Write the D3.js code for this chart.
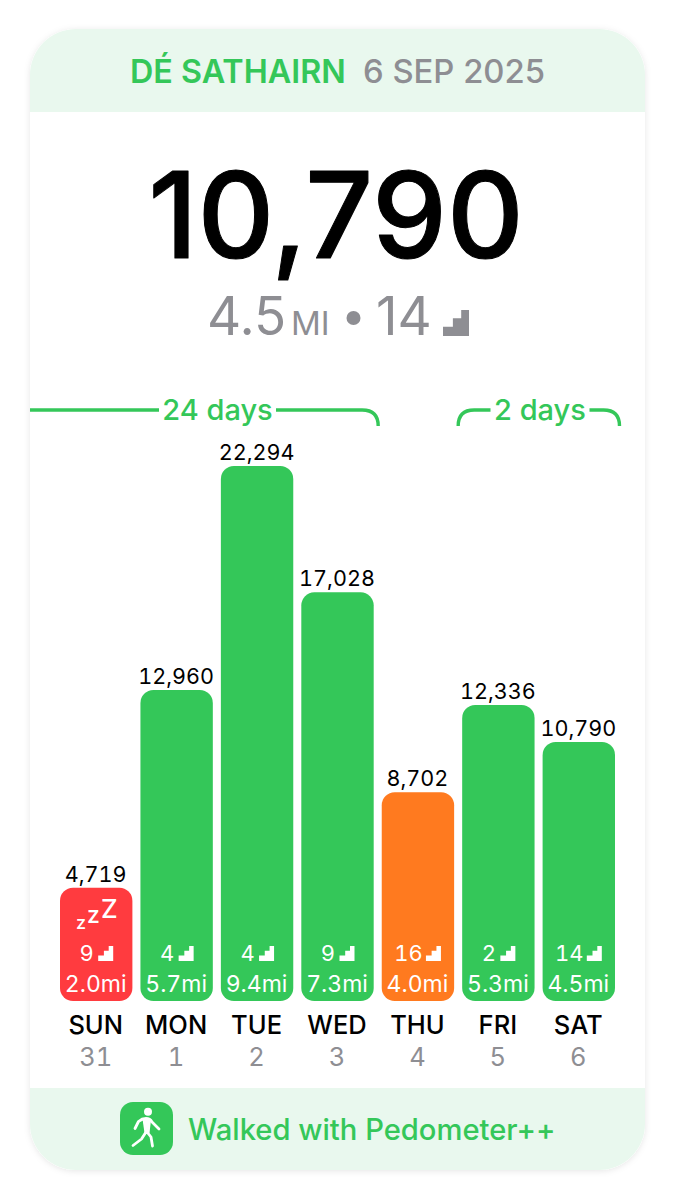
<!DOCTYPE html>
<html>
<head>
<meta charset="utf-8">
<script src="https://cdn.jsdelivr.net/npm/d3@7"></script>
<style>
  html, body { margin: 0; background: #fff; }
  text { font-family: Inter, "Noto Sans", sans-serif; }
  .num { font-variant-numeric: tabular-nums; }
</style>
</head>
<body>
<div id="chart"></div>
<script>
const dayNames = ['SUN', 'MON', 'TUE', 'WED', 'THU', 'FRI', 'SAT']
const dayDates = ['31', '1', '2', '3', '4', '5', '6']
const steps = [4719, 12960, 22294, 17028, 8702, 12336, 10790]
const floors = [9, 4, 4, 9, 16, 2, 14]
const miles = ['2.0mi', '5.7mi', '9.4mi', '7.3mi', '4.0mi', '5.3mi', '4.5mi']
const barStatus = ['low', 'goal', 'goal', 'goal', 'mid', 'goal', 'goal']
const streakLabels = ['24 days', '2 days']
const streakFrom = ['SUN', 'FRI']
const streakTo = ['WED', 'SAT']

const green = '#34c759'
const gray = '#8e8e93'
const tint = '#e9f8ee'
const statusColor = d3.scaleOrdinal(['low', 'mid', 'goal'], ['#ff3b3f', '#ff7a1f', green])

const width = 675
const height = 1200
const svg = d3.select('#chart').append('svg')
  .attr('width', width)
  .attr('height', height)
  .style('display', 'block')

const defs = svg.append('defs')
defs.append('clipPath').attr('id', 'cardClip')
  .append('rect').attr('x', 30).attr('y', 29).attr('width', 615).attr('height', 1141).attr('rx', 46)
const blur = defs.append('filter').attr('id', 'cardShadow')
  .attr('x', '-5%').attr('y', '-5%').attr('width', '110%').attr('height', '110%')
blur.append('feDropShadow').attr('dx', 0).attr('dy', 1).attr('stdDeviation', 3)
  .attr('flood-color', '#000').attr('flood-opacity', 0.1)

// card
svg.append('rect').attr('x', 30).attr('y', 29).attr('width', 615).attr('height', 1141).attr('rx', 46)
  .attr('fill', '#fff').attr('filter', 'url(#cardShadow)')
const bands = svg.append('g').attr('clip-path', 'url(#cardClip)')
bands.append('rect').attr('x', 30).attr('y', 29).attr('width', 615).attr('height', 83).attr('fill', tint)
bands.append('rect').attr('x', 30).attr('y', 1088).attr('width', 615).attr('height', 82).attr('fill', tint)

// header
svg.append('text').attr('x', 130).attr('y', 83)
  .attr('font-size', 32.3).attr('font-weight', 600).attr('fill', green).text('DÉ SATHAIRN')
svg.append('text').attr('x', 363).attr('y', 83)
  .attr('font-size', 32.8).attr('font-weight', 500).attr('fill', gray).text('6 SEP 2025')

// today's total
const today = steps[steps.length - 1]
svg.append('text').attr('x', 336).attr('y', 258).attr('text-anchor', 'middle')
  .attr('font-size', 119).attr('font-weight', 500).attr('fill', '#000')
  .attr('stroke', '#000').attr('stroke-width', 1).attr('stroke-linejoin', 'round')
  .text(d3.format(',')(today))

const stairs = 'M0 0 H-1 V-0.36 H-0.62 V-0.68 H-0.3 V-1 H0 Z'

const subLine = svg.append('g').attr('fill', gray)
subLine.append('text').attr('x', 207).attr('y', 335).attr('font-size', 53).text('4.5')
subLine.append('text').attr('x', 291).attr('y', 335).attr('font-size', 33).text('MI')
subLine.append('circle').attr('cx', 353.5).attr('cy', 318).attr('r', 7)
subLine.append('text').attr('x', 376).attr('y', 335).attr('font-size', 53).text('14')
subLine.append('path').attr('d', stairs).attr('transform', 'translate(469,336) scale(26)')

// scales
const x = d3.scaleBand().domain(dayNames).range([60, 615]).paddingInner(0.1).paddingOuter(0)
const y = d3.scaleLinear().domain([0, 22294]).range([1001, 466])

// streak brackets
const bracket = svg.append('g')
streakLabels.forEach((label, i) => {
  const openLeft = i === 0
  const x0 = openLeft ? 30 : x(streakFrom[i]) - 4
  const x1 = x(streakTo[i]) + x.bandwidth() + 4.5
  const top = 410
  const bottom = 426
  const r = 16
  const mid = openLeft ? 217.5 : 540
  const gap = openLeft ? 117 : 99
  const left = openLeft
    ? `M${x0} ${top} H${mid - gap / 2}`
    : `M${x0} ${bottom} Q${x0} ${top} ${x0 + r} ${top} H${mid - gap / 2}`
  const right = `M${mid + gap / 2} ${top} H${x1 - r} Q${x1} ${top} ${x1} ${bottom}`
  bracket.append('path').attr('d', left + right).attr('fill', 'none')
    .attr('stroke', green).attr('stroke-width', 3.4)
  bracket.append('text').attr('x', mid).attr('y', 420).attr('text-anchor', 'middle')
    .attr('fill', green).attr('font-size', 29).attr('font-weight', 500).text(label)
})

// bars
const rows = dayNames.map((d, i) => ({ d, date: dayDates[i], v: steps[i], fl: floors[i], mi: miles[i], s: barStatus[i] }))
const col = svg.append('g').selectAll('g').data(rows).enter().append('g')
const mid = d => x(d.d) + x.bandwidth() / 2

col.append('rect')
  .attr('x', d => x(d.d))
  .attr('y', d => y(d.v))
  .attr('width', x.bandwidth())
  .attr('height', d => y(0) - y(d.v))
  .attr('rx', 13)
  .attr('fill', d => statusColor(d.s))

col.append('text')
  .attr('class', 'num')
  .attr('x', d => mid(d) - 0.5)
  .attr('y', d => y(d.v) - 6)
  .attr('text-anchor', 'middle')
  .attr('font-size', 21.6)
  .attr('fill', '#000')
  .text(d => d3.format(',')(d.v))

col.append('text')
  .attr('class', 'num')
  .attr('x', d => mid(d) - 0.5)
  .attr('y', 992)
  .attr('text-anchor', 'middle')
  .attr('font-size', 23)
  .attr('fill', '#fff')
  .text(d => d.mi)

col.append('text')
  .attr('class', 'num')
  .attr('x', d => mid(d) - 9.5)
  .attr('y', 961)
  .attr('text-anchor', 'middle')
  .attr('font-size', 22)
  .attr('fill', '#fff')
  .text(d => d.fl)

col.append('path')
  .attr('d', stairs)
  .attr('fill', '#fff')
  .attr('transform', d => `translate(${mid(d) + (d.fl > 9 ? 23 : 17)},961) scale(15)`)

col.append('text')
  .attr('x', d => mid(d) - 0.5)
  .attr('y', 1034)
  .attr('text-anchor', 'middle')
  .attr('font-size', 25.5)
  .attr('font-weight', 500)
  .attr('fill', '#000')
  .text(d => d.d)

col.append('text')
  .attr('class', 'num')
  .attr('x', d => mid(d) - 0.5)
  .attr('y', 1066)
  .attr('text-anchor', 'middle')
  .attr('font-size', 25.5)
  .attr('fill', gray)
  .text(d => d.date)

// sleep mark on the low bar
const zx = x('SUN')
const zz = svg.append('g').attr('fill', '#fff').attr('font-weight', 500)
zz.append('text').attr('x', zx + 16).attr('y', 929).attr('font-size', 18).text('z')
zz.append('text').attr('x', zx + 27).attr('y', 923).attr('font-size', 23).text('z')
zz.append('text').attr('x', zx + 41).attr('y', 918).attr('font-size', 26).text('Z')

// footer
svg.append('rect').attr('x', 120).attr('y', 1102).attr('width', 53).attr('height', 53).attr('rx', 13).attr('fill', green)
const walker = svg.append('g').attr('transform', 'translate(120,1102)')
walker.append('circle').attr('cx', 28).attr('cy', 9.7).attr('r', 4).attr('fill', '#fff')
walker.append('path')
  .attr('d', 'M15 26.5 L18.5 19.5 Q22 16.5 26 16.5 Q30 16.5 32 20 L39 27 M26.5 18 L27 30 L31 35 L32.5 44 M26 30 L21.5 37 L13 43.5')
  .attr('fill', 'none').attr('stroke', '#fff').attr('stroke-width', 2.8).attr('stroke-linecap', 'round').attr('stroke-linejoin', 'round')
walker.append('path')
  .attr('d', 'M22.5 17 L31 18 L29.5 31 L24.5 31 Z')
  .attr('fill', '#fff')
svg.append('text').attr('x', 188).attr('y', 1140)
  .attr('font-size', 29.2).attr('font-weight', 500).attr('fill', green).text('Walked with Pedometer++')
</script>
</body>
</html>
